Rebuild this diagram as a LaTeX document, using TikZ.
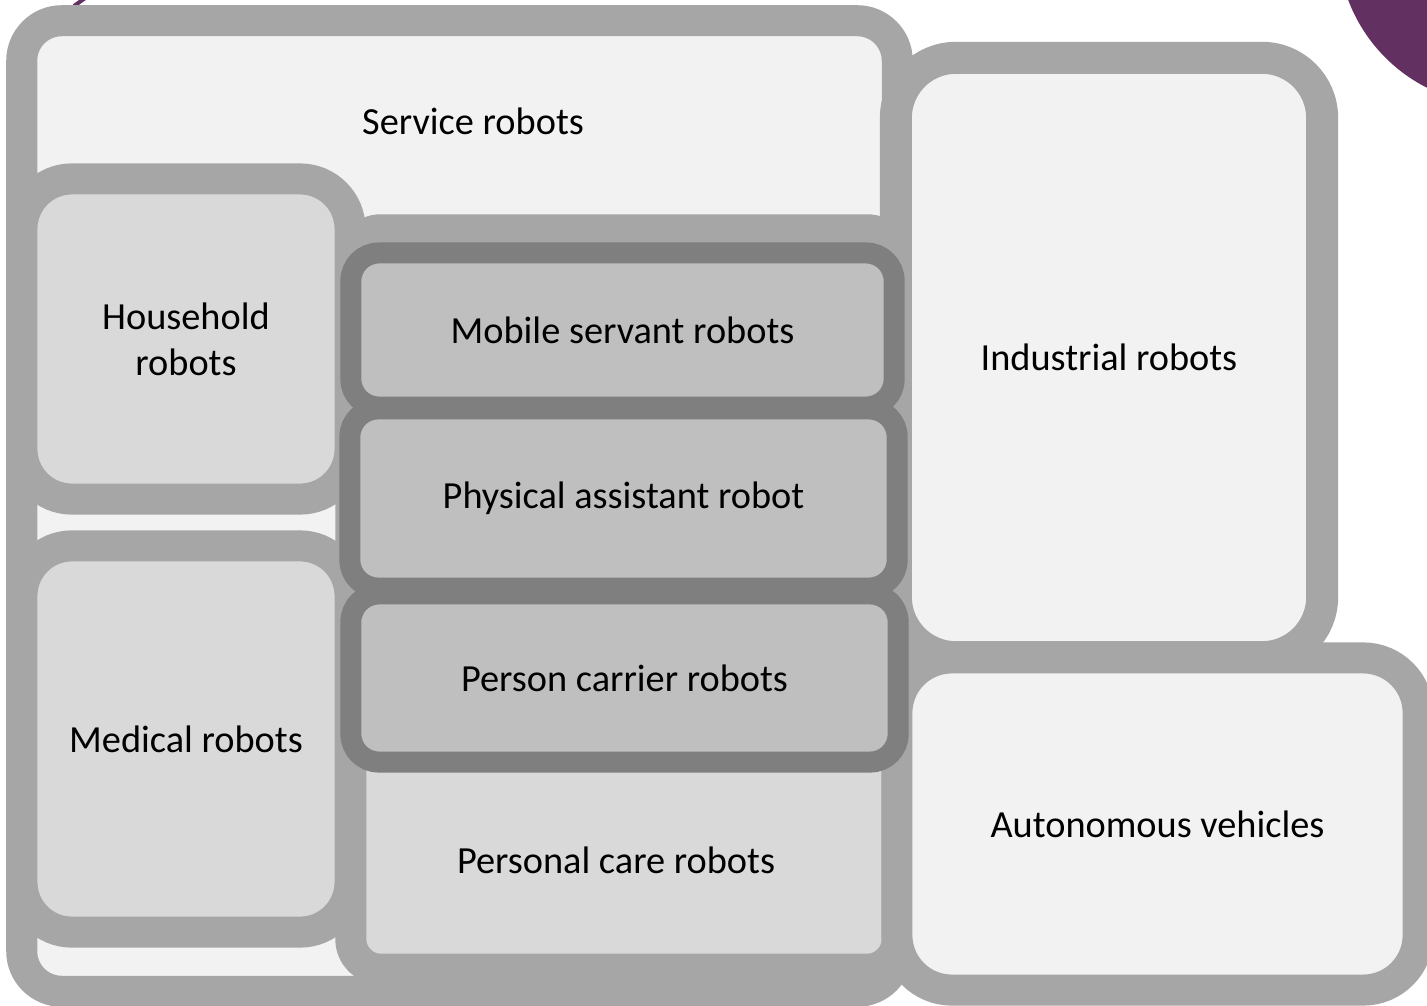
\documentclass[tikz,border=0pt]{standalone}
\usepackage{fontspec}
\setmainfont{Carlito}
\definecolor{rimgray}{HTML}{A6A6A6}
\definecolor{rimdark}{HTML}{7F7F7F}
\definecolor{paleFill}{HTML}{F2F2F2}
\definecolor{midFill}{HTML}{D9D9D9}
\definecolor{darkFill}{HTML}{BFBFBF}
\definecolor{plum}{RGB}{99,49,97}

\begin{document}
\begin{tikzpicture}[x=0.01cm, y=-0.01cm, font=\fontsize{10.9}{13}\selectfont]
	\tikzstyle {Outer} = [shape=rectangle, draw=rimgray, line width=0.31cm, fill=paleFill, align=center, inner sep=0pt]
	\tikzstyle {Inner} = [Outer, fill=midFill]
	\tikzstyle {Group} = [shape=rectangle, draw=rimdark, line width=0.21cm, rounded corners=0.28cm, fill=darkFill, inner sep=0pt]

	\fill[white] (0,0) rectangle (1427,1006);
	\useasboundingbox (0,0) rectangle (1427,1006);

	% purple decorations
	\fill[plum] (1500,-57) circle (1.62cm);
	\draw[plum, line width=0.04cm] (88,-4) -- (74,6);

	% service robots
	\node[Outer, rounded corners=0.4cm, minimum width=8.75cm, minimum height=9.70cm] (service) at (459.5,506) {};
	\node (service-text) at (473,121) {Service robots};

	% household / medical
	\node[Inner, rounded corners=0.5cm, minimum width=3.28cm, minimum height=3.20cm] (household) at (186,339) {Household\\robots};
	\node[Inner, rounded corners=0.5cm, minimum width=3.28cm, minimum height=3.86cm] (medical) at (186,739) {Medical robots};

	% personal care
	\node[Inner, rounded corners=0.3cm, minimum width=5.46cm, minimum height=7.39cm] (care) at (624,599.5) {};
	\node (care-text) at (616,860) {Personal care robots};

	% industrial / autonomous
	\node[Outer, line width=0.32cm, rounded corners=0.6cm, minimum width=4.26cm, minimum height=5.99cm] (industrial) at (1109,357.5) {Industrial robots};
	\node[Outer, rounded corners=0.55cm, minimum width=5.21cm, minimum height=3.32cm] (autonomous) at (1157.5,824) {Autonomous vehicles};

	% care sub-groups
	\node[Group, minimum width=5.43cm, minimum height=1.54cm] (mobile) at (622.5,330) {Mobile servant robots};
	\node[Group, minimum width=5.47cm, minimum height=1.79cm] (physical) at (623.5,498.5) {Physical assistant robot};
	\node[Group, minimum width=5.47cm, minimum height=1.68cm] (carrier) at (624.5,678) {Person carrier robots};
\end{tikzpicture}
\end{document}
